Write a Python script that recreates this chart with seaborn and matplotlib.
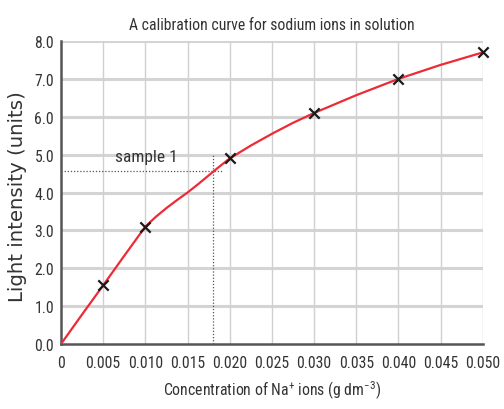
import matplotlib
matplotlib.use("Agg")
import os
import matplotlib.pyplot as plt
from matplotlib.font_manager import FontProperties
import seaborn as sns
import pandas as pd

# measured points
conc = [0.005, 0.010, 0.020, 0.030, 0.040, 0.050]
intensity = [1.55, 3.1, 4.9, 6.1, 7.0, 7.7]

# hand-drawn calibration curve
curve_x = [0.0, 0.0025, 0.005, 0.0075, 0.010, 0.01125, 0.0125, 0.01375, 0.015,
           0.01625, 0.0175, 0.01875, 0.020, 0.0225, 0.025, 0.0275, 0.030,
           0.035, 0.040, 0.045, 0.050]
curve_y = [0.0, 0.78, 1.55, 2.33, 3.1, 3.36, 3.59, 3.8, 4.0,
           4.22, 4.45, 4.68, 4.9, 5.24, 5.55, 5.84, 6.1,
           6.57, 7.0, 7.37, 7.7]

sample_x = 0.018
sample_y = 4.58

xticks = [0, 0.005, 0.010, 0.015, 0.020, 0.025, 0.030, 0.035, 0.040, 0.045, 0.050]
xtick_labels = ["0", "0.005", "0.010", "0.015", "0.020", "0.025", "0.030",
                "0.035", "0.040", "0.045", "0.050"]
yticks = [0, 1, 2, 3, 4, 5, 6, 7, 8]
ytick_labels = ["0.0", "1.0", "2.0", "3.0", "4.0", "5.0", "6.0", "7.0", "8.0"]

sns.set_style("white")
narrow = ["Roboto Condensed", "Archivo Narrow", "DejaVu Sans"]
plt.rcParams["font.family"] = narrow
plt.rcParams["mathtext.fontset"] = "custom"
plt.rcParams["mathtext.rm"] = "Roboto Condensed"
plt.rcParams["mathtext.it"] = "Roboto Condensed"

wide_path = os.path.join(matplotlib.get_data_path(), "fonts", "ttf", "DejaVuSans.ttf")
wide_fp = FontProperties(fname=wide_path, size=14.2)

fig = plt.figure(figsize=(5.04, 4.10), dpi=100)
ax = fig.add_axes([0.121, 0.1585, 0.837, 0.739])

df_curve = pd.DataFrame({"x": curve_x, "y": curve_y})
df_pts = pd.DataFrame({"x": conc, "y": intensity})

for y in yticks[1:]:
    ax.axhline(y, color="#d4d4d4", lw=2.2, zorder=0)
for x in xticks[1:]:
    ax.axvline(x, color="#d0d0d0", lw=1.0, zorder=0)

sns.lineplot(data=df_curve, x="x", y="y", ax=ax, color="#ee2a35", lw=1.6, zorder=3)
sns.scatterplot(data=df_pts, x="x", y="y", ax=ax, marker="x", color="#1a1a1a",
                s=55, linewidth=1.6, zorder=4, clip_on=False)

ax.plot([0, 0.0191], [sample_y, sample_y], ls=(0, (1, 1.5)), color="#555555", lw=0.9, zorder=2)
ax.plot([sample_x, sample_x], [0, 5.01], ls=(0, (1, 1.5)), color="#555555", lw=0.9, zorder=2)
ax.text(0.0064, 4.96, "sample 1", fontsize=12.5, color="#333333", va="center", ha="left")

ax.set_xlim(0, 0.050)
ax.set_ylim(0, 8.0)
ax.set_xticks(xticks)
ax.set_xticklabels(xtick_labels)
ax.set_yticks(yticks)
ax.set_yticklabels(ytick_labels)
ax.tick_params(axis="both", labelsize=11.3, colors="#333333", length=4, width=1, direction="out",
               pad=1)
ax.tick_params(axis="x", length=0, pad=8)

for s in ["top", "right"]:
    ax.spines[s].set_visible(False)
for s in ["left", "bottom"]:
    ax.spines[s].set_color("#555555")
    ax.spines[s].set_linewidth(1.8)

ax.set_xlabel("Concentration of Na$^{+}$ ions (g dm$^{-3}$)", fontsize=11.3, color="#333333", labelpad=6)
ax.set_ylabel("Light intensity (units)", color="#333333", fontproperties=wide_fp)
ax.yaxis.set_label_coords(-0.08, 0.49)
ax.set_title("A calibration curve for sodium ions in solution", fontsize=11.3, color="#333333", pad=9)

fig.savefig("out.png", dpi=100)
